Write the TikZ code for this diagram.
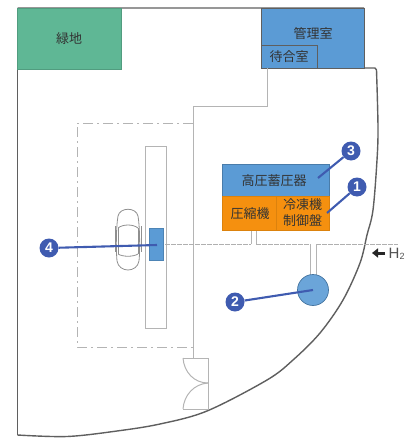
\documentclass[tikz,border=0pt]{standalone}
\usepackage{fontspec}
\setmainfont{Liberation Sans}
\newfontfamily\cjk{Noto Sans CJK JP}
\usetikzlibrary{arrows.meta,calc}
\definecolor{roomblue}{HTML}{5B9BD5}
\definecolor{green1}{HTML}{5FB795}
\definecolor{orange1}{HTML}{F5900F}
\definecolor{badge}{HTML}{3F5BB0}
\definecolor{wallc}{HTML}{5F5F5F}
\definecolor{inner}{HTML}{B4B4B4}
\definecolor{pipe}{HTML}{B0B0B0}
\definecolor{txt}{HTML}{333333}
\tikzset{
  x=1pt,y=-1pt,
  room/.style={draw=#1,line width=1pt,inner sep=0pt,outer sep=0pt,anchor=north west,font=\cjk\fontsize{13}{15}\selectfont,text=txt,align=center},
  wall/.style={draw=wallc,line width=1.4pt},
  thinwall/.style={draw=inner,line width=1pt},
  pipeline/.style={draw=pipe,line width=.9pt,dash pattern=on 5pt off 1pt},
  chain/.style={draw=inner,line width=.9pt,dash pattern=on 10pt off 4pt on 2pt off 4pt},
  leader/.style={draw=badge,line width=2.1pt},
  badgec/.style={circle,fill=badge,text=white,inner sep=0pt,minimum size=19pt,font=\bfseries\fontsize{14}{14}\selectfont},
  labeltext/.style={font=\cjk\fontsize{13}{15}\selectfont,text=txt,inner sep=0pt},
}
\begin{document}
\begin{tikzpicture}
\useasboundingbox (0,0) rectangle (414,439);
% outer wall
\draw[wall,line join=round] (17.5,8) -- (364,8) (364,68) -- (375,68) -- (376.5,70);
\draw[wall,line join=round] plot[smooth,tension=.55] coordinates {(376.5,70) (378,127) (377,160) (373,210) (367,235) (360,263) (343,300) (320,333) (293,360) (267,380) (207,411) (160,424) (117,431) (67,436.5) (17.5,435)};
\draw[wall] (17.5,435) -- (17.5,8);
% rooms
\node[room=green1!85!black,fill=green1,minimum width=104pt,minimum height=61pt] (green) at (17.5,8) {};
\node[labeltext] (greenlabel) at (69,39) {緑地};
\node[room=wallc,fill=roomblue,minimum width=103pt,minimum height=60pt] (mgmt) at (261,8) {};
\node[labeltext] (mgmtlabel) at (313,34) {管理室};
\node[room=wallc,fill=roomblue,line width=.7pt,minimum width=56pt,minimum height=23pt] (wait) at (261,45) {};
\node[labeltext] (waitlabel) at (289,57) {待合室};
% inner walls
\coordinate (w1) at (267,68);
\coordinate (w2) at (267,106);
\coordinate (w3) at (193,106);
\coordinate (w4) at (193,358);
\draw[thinwall] (w1) -- (w2) -- (w3) -- (w4);
% door
\coordinate (d1) at (183,358);
\coordinate (d2) at (208,358);
\coordinate (d3) at (208,409);
\coordinate (d4) at (183,409);
\coordinate (d5) at (208,383);
\draw[thinwall] (d1) -- (d2) -- (d3) -- (d4);
\draw[thinwall] (d1) .. controls (184,372) and (194,383) .. (d5);
\draw[thinwall] (d4) .. controls (184,395) and (194,384) .. (d5);
% parking area
\coordinate (p1) at (193,123);
\coordinate (p2) at (77,123);
\coordinate (p3) at (77,347);
\coordinate (p4) at (193,347);
\draw[chain] (p1) -- (p2) -- (p3) -- (p4);
% dispenser island
\node[room=inner,minimum width=21pt,minimum height=182pt] (island) at (145.5,146) {};
% car
\begin{scope}[draw=wallc!70,line width=.8pt]
\draw (118,216) .. controls (120,207) and (136,207) .. (138,216)
  .. controls (140,228) and (140,252) .. (139,261)
  .. controls (137,273) and (119,273) .. (117,261)
  .. controls (116,250) and (116,228) .. (118,216) -- cycle;
\draw (118,228) .. controls (123,224) and (133,224) .. (138,228);
\draw (118,254) .. controls (123,257) and (133,257) .. (138,254);
\draw (115,226) -- (115,252) (141,226) -- (141,252);
\draw (118,228) -- (118,254) (138,228) -- (138,254);
\end{scope}
% pipes
\coordinate (h0) at (165,244);
\coordinate (h1) at (251,244);
\coordinate (h2) at (256,244);
\coordinate (h3) at (310,244);
\coordinate (h4) at (316,244);
\coordinate (h5) at (398,244);
\draw[pipeline] (h0) -- (h1);
\draw[pipeline] (h2) -- (h3);
\draw[pipeline] (h4) -- (h5);
\draw[thinwall,line width=.9pt] (h1) -- (251,230) (h2) -- (256,230);
\draw[thinwall,line width=.9pt] (h3) -- (310,276) (h4) -- (316,276);
% equipment
\node[room=roomblue!80!black,line width=.6pt,fill=roomblue,minimum width=107pt,minimum height=32pt] (acc) at (222,164) {};
\node[labeltext] (acclabel) at (274,181) {高圧蓄圧器};
\node[room=orange1!90!black,fill=orange1,line width=.8pt,minimum width=54pt,minimum height=34pt] (comp) at (222,196) {};
\node[labeltext] (complabel) at (250,214) {圧縮機};
\node[room=orange1!90!black,fill=orange1,line width=.8pt,minimum width=53pt,minimum height=34pt] (ctrl) at (276,196) {};
\node[labeltext,align=center,font=\cjk\fontsize{13}{16}\selectfont] (ctrllabel) at (302.5,213) {冷凍機\\制御盤};
\node[circle,draw=roomblue!75!black,line width=.7pt,fill=roomblue!90!white,minimum size=31pt,inner sep=0pt] (tank) at (313,290) {};
\node[room=roomblue!85!black,line width=.5pt,fill=roomblue,minimum width=14pt,minimum height=32pt] (disp) at (149,228) {};
% callouts
\coordinate (t3) at (318,178);
\coordinate (t1) at (327,213);
\coordinate (t4) at (157,245);
\node[badgec] (b3) at (351,151) {3};
\node[badgec] (b1) at (357,187) {1};
\node[badgec] (b4) at (49,248) {4};
\node[badgec] (b2) at (235,302) {2};
\draw[leader] (b3) -- (t3);
\draw[leader] (b1) -- (t1);
\draw[leader] (b4) -- (t4);
\draw[leader] (b2) -- (tank.center);
% H2
\coordinate (a1) at (385,253);
\coordinate (a2) at (372,253);
\draw[-{Triangle[length=6pt,width=9pt]},line width=3pt,draw=black!85,fill=black!85] (a1) -- (a2);
\node[inner sep=0pt,anchor=west,text=txt!85,font=\fontsize{15}{16}\selectfont] (h2label) at (388.5,254) {H\raisebox{-.5pt}{\fontsize{9}{9}\selectfont 2}};
\end{tikzpicture}
\end{document}
